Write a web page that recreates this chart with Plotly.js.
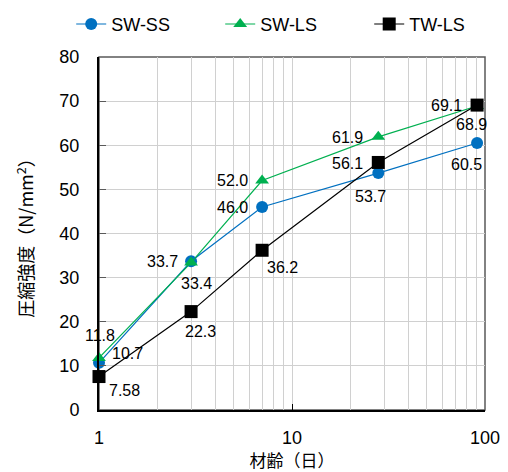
<!DOCTYPE html>
<html><head><meta charset="utf-8">
<script src="https://cdn.plot.ly/plotly-3.0.1.min.js"></script>
<style>body{margin:0;background:#fff}#c{width:508px;height:472px}</style>
</head><body><div id="c"></div>
<script>
const ages = [1, 3, 7, 28, 91];
const swss = [10.7, 33.7, 46.0, 53.7, 60.5];
const swls = [11.8, 33.4, 52.0, 61.9, 68.9];
const twls = [7.58, 22.3, 36.2, 56.1, 69.1];
const swssLabels = ["10.7", "33.7", "46.0", "53.7", "60.5"];
const swlsLabels = ["11.8", "33.4", "52.0", "61.9", "68.9"];
const twlsLabels = ["7.58", "22.3", "36.2", "56.1", "69.1"];
const seriesNames = ["SW-SS", "SW-LS", "TW-LS"];
const xTickVals = [1, 10, 100];
const xMinorVals = [2,3,4,5,6,7,8,9,20,30,40,50,60,70,80,90];

// label offsets (pixels) per point
const swssOff = [[28, 9], [-29, 0], [-30, 0], [-8, -23], [-11, -21]];
const swlsOff = [[1, 22], [5, -21], [-30, 0], [-31, -1], [-6, -19]];
const twlsOff = [[25, -14], [9, -20], [20, -17], [-31, -1], [-31, 0]];

const F = '"Liberation Sans", Arial, sans-serif';
const CJK = '"Noto Sans CJK JP", sans-serif';
const lblFont = {family: F, size: 16, color: '#000'};

const colors = ['#0070C0', '#00B050', '#000000'];
const symbols = ['circle', 'triangle-up', 'square'];
const sizes = [12, 12, 13];
const ys = [swss, swls, twls];
const labels = [swssLabels, swlsLabels, twlsLabels];
const offs = [swssOff, swlsOff, twlsOff];

const traces = ys.map((y, i) => ({
  x: ages, y: y, name: seriesNames[i], mode: 'lines+markers', cliponaxis: false,
  line: {color: colors[i], width: 1.2},
  marker: {symbol: symbols[i], size: sizes[i], color: colors[i]}
}));

const annotations = [];
ys.forEach((y, i) => {
  y.forEach((v, j) => {
    annotations.push({x: Math.log10(ages[j]), y: v, xref: 'x', yref: 'y', text: labels[i][j],
      showarrow: false, xshift: offs[i][j][0], yshift: offs[i][j][1], font: lblFont,
      xanchor: 'center', yanchor: 'middle'});
  });
});

const layout = {
  width: 508, height: 472,
  margin: {l: 99, r: 23, t: 57, b: 62, autoexpand: false},
  paper_bgcolor: '#fff', plot_bgcolor: '#fff',
  font: {family: F, size: 18, color: '#000'},
  showlegend: true,
  legend: {orientation: 'h', x: -0.072, xanchor: 'left',
           y: 1.145, yanchor: 'top', font: {family: F, size: 18, color: '#000'},
           bgcolor: 'rgba(0,0,0,0)',
           entrywidth: 104, entrywidthmode: 'pixels', itemwidth: 30},
  xaxis: {type: 'log', range: [0, 2], tickmode: 'array', tickvals: xTickVals, ticktext: ['1','10','100'],
          showline: true, linecolor: '#000', linewidth: 2,
          showgrid: true, gridcolor: '#d0d0d0', gridwidth: 1,
          ticks: 'inside', ticklen: 6, tickcolor: '#000', ticklabelstandoff: 10,
          minor: {tickmode: 'array', tickvals: xMinorVals, showgrid: true, gridcolor: '#d0d0d0', gridwidth: 1, ticks: ''},
          zeroline: false, tickfont: {family: F, size: 18},
          title: {text: '材齢（日）', font: {family: CJK, size: 17}, standoff: 4}},
  yaxis: {range: [0, 80], dtick: 10, showline: true, linecolor: '#000', linewidth: 2,
          showgrid: true, gridcolor: '#d0d0d0', gridwidth: 1,
          ticks: 'inside', ticklen: 7, tickcolor: '#595959', ticklabelstandoff: 14,
          zeroline: false, tickfont: {family: F, size: 18},
          title: {text: '圧縮強度（N/mm<sup>2</sup>）', font: {family: CJK, size: 18}, standoff: 21}},
  annotations: annotations,
  shapes: [{type: 'rect', xref: 'paper', yref: 'paper', x0: 0, x1: 1, y0: 0, y1: 1,
            line: {color: '#595959', width: 1.5}, layer: 'below'}]
};
Plotly.newPlot('c', traces, layout, {displayModeBar: false, staticPlot: true});
</script></body></html>
